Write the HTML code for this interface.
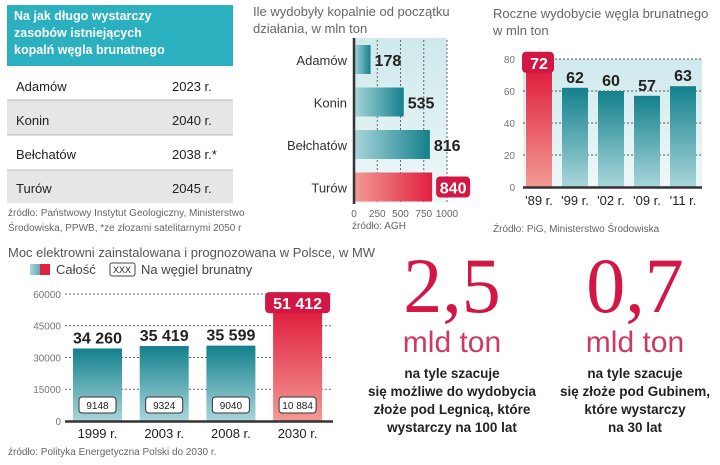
<!DOCTYPE html>
<html><head><meta charset="utf-8"><style>
html,body{margin:0;padding:0;background:#fff;}
svg{display:block;font-family:"Liberation Sans",sans-serif;}
.sm{font-size:10px;fill:#666;}
</style></head><body>
<svg id="s" width="720" height="465" viewBox="0 0 720 465">
<defs>
<linearGradient id="teal" x1="0" y1="0" x2="0" y2="1"><stop offset="0" stop-color="#13808c"/><stop offset="1" stop-color="#a9d6db"/></linearGradient>
<linearGradient id="red" x1="0" y1="0" x2="0" y2="1"><stop offset="0" stop-color="#e0203f"/><stop offset="1" stop-color="#f29a94"/></linearGradient>
<linearGradient id="tealH" x1="0" y1="0" x2="1" y2="0"><stop offset="0" stop-color="#a9d6db"/><stop offset="1" stop-color="#13808c"/></linearGradient>
<linearGradient id="redH" x1="0" y1="0" x2="1" y2="0"><stop offset="0" stop-color="#f29a94"/><stop offset="1" stop-color="#e0203f"/></linearGradient>
<linearGradient id="bgV" x1="0" y1="0" x2="0" y2="1"><stop offset="0" stop-color="#cfe9ec"/><stop offset="1" stop-color="#eef7f8"/></linearGradient>
</defs>

<g>
<rect x="7" y="5" width="226" height="61" fill="#2bb0c0"/>
<text x="14" y="20" font-size="12.5" font-weight="bold" fill="#fff">Na jak długo wystarczy</text>
<text x="14" y="37" font-size="12.5" font-weight="bold" fill="#fff">zasobów istniejących</text>
<text x="14" y="54" font-size="12.5" font-weight="bold" fill="#fff">kopalń węgla brunatnego</text>
<rect x="7" y="100" width="226" height="35" fill="#e6e6e6"/>
<rect x="7" y="170" width="226" height="33" fill="#e6e6e6"/>
<line x1="7" y1="100" x2="233" y2="100" stroke="#bbb"/>
<line x1="7" y1="135" x2="233" y2="135" stroke="#bbb"/>
<line x1="7" y1="170" x2="233" y2="170" stroke="#bbb"/>
<g font-size="13" fill="#222">
<text x="16" y="91">Adamów</text><text x="172" y="91">2023 r.</text>
<text x="16" y="125">Konin</text><text x="172" y="125">2040 r.</text>
<text x="16" y="159">Bełchatów</text><text x="172" y="159">2038 r.*</text>
<text x="16" y="193">Turów</text><text x="172" y="193">2045 r.</text>
</g>
<text class="sm" x="8" y="216">źródło: Państwowy Instytut Geologiczny, Ministerstwo</text>
<text class="sm" x="8" y="231">Środowiska, PPWB, *ze złozami satelitarnymi 2050 r</text>
</g>

<g id="hchart">
<text x="253" y="16" font-size="13" fill="#666">Ile wydobyły kopalnie od początku</text>
<text x="253" y="33" font-size="13" fill="#666">działania, w mln ton</text>
<rect x="354" y="38" width="93" height="165" fill="url(#bgV)"/>
<text class="sm" x="352" y="229">źródło: AGH</text>
</g>

<g id="vchart">
<text x="493" y="18" font-size="13" fill="#666">Roczne wydobycie węgla brunatnego</text>
<text x="493" y="35" font-size="13" fill="#666">w mln ton</text>
<rect x="523" y="59" width="179" height="128" fill="url(#bgV)"/>
<text class="sm" x="493" y="232">Źródło: PiG, Ministerstwo Środowiska</text>
</g>

<g id="bchart">
<text x="8" y="257" font-size="13" fill="#555">Moc elektrowni zainstalowana i prognozowana w Polsce, w MW</text>
<rect x="30" y="264" width="20" height="11" fill="url(#tealH)"/>
<rect x="40" y="264" width="10" height="11" fill="#e0203f"/>
<text x="56" y="274" font-size="13" fill="#444">Całość</text>
<rect x="110" y="263" width="25" height="13" rx="2" fill="#fff" stroke="#444"/>
<text x="122" y="273" font-size="9" text-anchor="middle" fill="#222">XXX</text>
<text x="141" y="274" font-size="13" fill="#444">Na węgiel brunatny</text>
<text class="sm" x="8" y="455">źródło: Polityka Energetyczna Polski do 2030 r.</text>
</g>

<g text-anchor="middle">
<text x="452" y="312" font-family="Liberation Serif,serif" font-size="78" fill="#d21745">2,5</text>
<text x="452" y="352" font-size="30" fill="#cc3a64">mld ton</text>
<g font-size="13.5" font-weight="bold" fill="#222">
<text x="452" y="378">na tyle szacuje</text>
<text x="452" y="396">się możliwe do wydobycia</text>
<text x="452" y="414">złoże pod Legnicą, które</text>
<text x="452" y="432">wystarczy na 100 lat</text></g>
</g>
<g text-anchor="middle">
<text x="635" y="312" font-family="Liberation Serif,serif" font-size="78" fill="#d21745">0,7</text>
<text x="635" y="352" font-size="30" fill="#cc3a64">mld ton</text>
<g font-size="13.5" font-weight="bold" fill="#222">
<text x="635" y="378">na tyle szacuje</text>
<text x="635" y="396">się złoże pod Gubinem,</text>
<text x="635" y="414">które wystarczy</text>
<text x="635" y="432">na 30 lat</text></g>
</g>
</svg>
<script>
const mines=["Adamów","Konin","Bełchatów","Turów"];
const minedValues=[178,535,816,840];
const mineTicks=[0,250,500,750,1000];
const years=["'89 r.","'99 r.","'02 r.","'09 r.","'11 r."];
const outputValues=[72,62,60,57,63];
const outputTicks=[0,20,40,60,80];
const capYears=["1999 r.","2003 r.","2008 r.","2030 r."];
const capTotal=[34260,35419,35599,51412];
const capLignite=[9148,9324,9040,10884];
const capTicks=[0,15000,30000,45000,60000];

const NS="http://www.w3.org/2000/svg";
function mk(parent,tag,attrs,txt){const e=document.createElementNS(NS,tag);for(const k in attrs)e.setAttribute(k,attrs[k]);if(txt!==undefined)e.textContent=txt;parent.appendChild(e);return e;}
const fmt=v=>v>=10000?String(v).replace(/\B(?=(\d{3})+(?!\d))/g," "):String(v);

const hg=document.getElementById('hchart');
const hx=v=>354+v*0.093;
mineTicks.forEach(t=>{
  if(t>0)mk(hg,'line',{x1:hx(t),x2:hx(t),y1:40,y2:203,stroke:'#666','stroke-dasharray':'2,2'});
  const l=mk(hg,'text',{x:hx(t),y:217,'font-size':10,fill:'#666','text-anchor':'middle'},t);
  
  
});
mines.forEach((m,i)=>{
  const y=45+i*42.5, last=i===mines.length-1;
  const b=mk(hg,'rect',{x:354,y:y,width:hx(minedValues[i])-354,height:29,fill:last?'url(#redH)':'url(#tealH)'});
  
  
  mk(hg,'text',{x:347,y:y+20,'font-size':13,fill:'#333','text-anchor':'end'},m);
  const vx=hx(minedValues[i])+4;
  if(last){mk(hg,'rect',{x:vx,y:y+4,width:34,height:21,rx:4,fill:'#d21745'});
    mk(hg,'text',{x:vx+17,y:y+21,'font-size':16,'font-weight':'bold',fill:'#fff','text-anchor':'middle'},minedValues[i]);}
  else mk(hg,'text',{x:vx,y:y+21,'font-size':16,'font-weight':'bold',fill:'#222'},minedValues[i]);
});
mk(hg,'line',{x1:354,x2:354,y1:38,y2:204,stroke:'#333','stroke-width':2.5});

const vg=document.getElementById('vchart');
const vy=v=>187-v*1.6;
outputTicks.forEach(t=>{
  if(t>0)mk(vg,'line',{x1:523,x2:702,y1:vy(t),y2:vy(t),stroke:'#555','stroke-dasharray':'2,2'});
  const l=mk(vg,'text',{x:515,y:vy(t)+4,'font-size':10,fill:'#777','text-anchor':'end'},t);
  
  
});
years.forEach((yr,i)=>{
  const x=526+i*36, v=outputValues[i], first=i===0;
  const b=mk(vg,'rect',{x:x,y:vy(v),width:26,height:187-vy(v),fill:first?'url(#red)':'url(#teal)'});
  
  
  if(first){mk(vg,'rect',{x:x-4,y:vy(v)-20,width:32,height:21,rx:4,fill:'#d21745'});
    mk(vg,'text',{x:x+13,y:vy(v)-3,'font-size':16,'font-weight':'bold',fill:'#fff','text-anchor':'middle'},v);}
  else mk(vg,'text',{x:x+13,y:vy(v)-5,'font-size':16,'font-weight':'bold',fill:'#222','text-anchor':'middle'},v);
  mk(vg,'text',{x:x+13,y:205,'font-size':13,fill:'#222','text-anchor':'middle'},yr);
});
mk(vg,'line',{x1:523,x2:702,y1:187.5,y2:187.5,stroke:'#333','stroke-width':2.5});

const bg=document.getElementById('bchart');
const by=v=>421-v*0.002117;
capTicks.forEach(t=>{
  if(t>0)mk(bg,'line',{x1:65,x2:333,y1:by(t),y2:by(t),stroke:'#666','stroke-dasharray':'2,2'});
  const l=mk(bg,'text',{x:61,y:by(t)+4,'font-size':10,fill:'#777','text-anchor':'end'},t);
  
  
});
capYears.forEach((yr,i)=>{
  const x=73+i*66.7, v=capTotal[i], last=i===capYears.length-1;
  const b=mk(bg,'rect',{x:x,y:by(v),width:49,height:421-by(v),fill:last?'url(#red)':'url(#teal)'});
  
  
  const tv=String(v).replace(/\B(?=(\d{3})+(?!\d))/g," ");
  if(last){mk(bg,'rect',{x:x-8,y:by(v)-20,width:65,height:21,rx:4,fill:'#d21745'});
    mk(bg,'text',{x:x+24.5,y:by(v)-3,'font-size':16,'font-weight':'bold',fill:'#fff','text-anchor':'middle'},tv);}
  else mk(bg,'text',{x:x+24.5,y:by(v)-5,'font-size':16,'font-weight':'bold',fill:'#222','text-anchor':'middle'},tv);
  mk(bg,'rect',{x:x+6,y:397,width:37,height:16,rx:3,fill:'#fff',stroke:'#333'});
  const l=mk(bg,'text',{x:x+24.5,y:409,'font-size':10,fill:'#222','text-anchor':'middle'},fmt(capLignite[i]));
  
  
  mk(bg,'text',{x:x+24.5,y:438,'font-size':13,fill:'#222','text-anchor':'middle'},yr);
});
mk(bg,'line',{x1:65,x2:333,y1:421.5,y2:421.5,stroke:'#333','stroke-width':2.5});
</script>
</body></html>
